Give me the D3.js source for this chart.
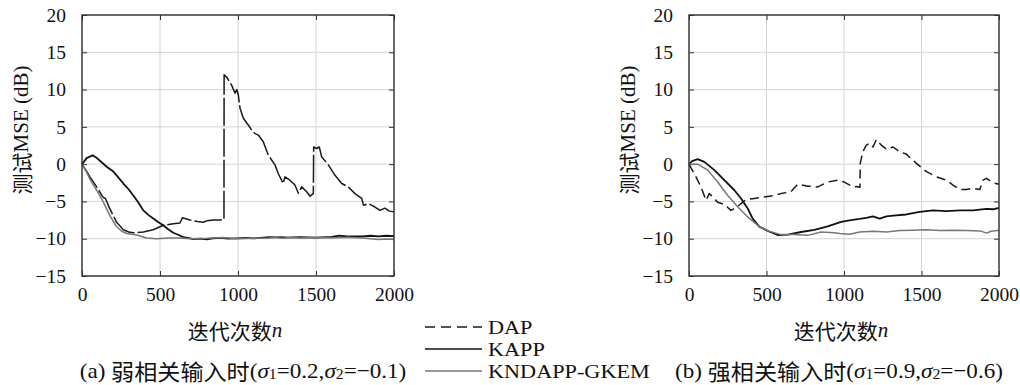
<!DOCTYPE html>
<html>
<head>
<meta charset="utf-8">
<script src="https://cdn.jsdelivr.net/npm/d3@7"></script>
<style>
body { margin: 0; background: #fff; }
svg { display: block; }
</style>
</head>
<body>
<div id="chart"></div>
<script>
/* tick values */
var xTicks = [0, 500, 1000, 1500, 2000];
var yTicks = [-15, -10, -5, 0, 5, 10, 15, 20];
var seriesNames = ["DAP", "KAPP", "KNDAPP-GKEM"];

/* (a) weak correlation, [n, MSE dB] */
var dapA = [[0,0],[25,-0.8],[51,-1.7],[94,-3.05],[130,-4.3],[140,-4.5],[150,-4.6],[179,-6.0],[222,-7.8],[265,-8.8],[300,-9.1],[329,-9.2],[393,-9.1],[457,-8.8],[521,-8.2],[585,-8.0],[628,-7.9],[643,-7.2],[660,-7.3],[692,-7.5],[740,-7.7],[778,-7.8],[800,-7.6],[842,-7.5],[880,-7.5],[910,-7.45],[911,12.0],[930,11.6],[959,10.6],[981,9.5],[992,10.0],[1002,9.3],[1013,7.5],[1034,6.15],[1066,5.25],[1090,4.5],[1109,4.1],[1130,3.9],[1162,3.0],[1194,1.2],[1237,-0.1],[1258,-1.25],[1290,-2.6],[1301,-1.7],[1333,-2.15],[1365,-2.8],[1387,-3.9],[1408,-3.05],[1440,-3.7],[1462,-4.3],[1483,-3.95],[1485,2.3],[1504,2.1],[1521,2.3],[1536,1.0],[1579,-0.1],[1622,-1.5],[1665,-2.6],[1707,-3.05],[1750,-3.95],[1793,-4.6],[1804,-5.5],[1836,-5.3],[1878,-5.75],[1910,-6.2],[1942,-5.9],[1970,-6.3],[2000,-6.4]];
var kappA = [[0,0],[30,0.8],[68,1.2],[90,0.9],[115,0.45],[158,-0.35],[201,-1.0],[230,-1.7],[265,-2.6],[300,-3.4],[329,-4.2],[360,-5.1],[393,-6.2],[425,-6.8],[457,-7.3],[490,-7.8],[521,-8.2],[550,-8.7],[585,-9.2],[620,-9.5],[649,-9.8],[680,-9.9],[713,-10.05],[760,-10.0],[799,-10.1],[840,-9.95],[884,-9.9],[940,-10.0],[991,-9.95],[1050,-9.9],[1100,-9.95],[1200,-9.8],[1300,-9.85],[1400,-9.8],[1500,-9.85],[1600,-9.75],[1650,-9.6],[1700,-9.7],[1800,-9.7],[1850,-9.6],[1900,-9.7],[1950,-9.6],[2000,-9.65]];
var kndA = [[0,0],[30,-1.1],[51,-2.0],[94,-3.5],[137,-5.1],[179,-6.9],[222,-8.4],[255,-9.0],[286,-9.3],[350,-9.5],[414,-9.9],[478,-10.0],[550,-9.9],[628,-9.9],[700,-10.0],[800,-9.95],[900,-9.85],[1000,-10.0],[1100,-9.95],[1200,-9.9],[1280,-9.7],[1320,-9.85],[1400,-9.9],[1500,-9.85],[1600,-9.9],[1700,-9.8],[1800,-9.9],[1900,-10.1],[1950,-10.05],[2000,-10.1]];

/* (b) strong correlation */
var dapB = [[0,0],[45,-1.7],[77,-3.05],[110,-4.85],[131,-3.95],[153,-4.4],[185,-5.1],[228,-5.4],[271,-6.2],[314,-5.7],[346,-5.1],[368,-4.75],[422,-4.6],[486,-4.4],[551,-4.2],[594,-3.95],[658,-3.7],[701,-2.7],[766,-2.95],[830,-3.05],[895,-2.4],[959,-2.15],[1002,-2.4],[1058,-3.05],[1080,-3.0],[1103,-3.1],[1105,0.1],[1121,1.65],[1144,2.55],[1166,2.8],[1187,2.3],[1209,3.3],[1241,2.55],[1274,2.0],[1317,2.3],[1359,1.65],[1402,1.35],[1467,0.1],[1532,-1.0],[1596,-1.7],[1660,-2.15],[1703,-2.8],[1747,-3.4],[1790,-3.4],[1833,-3.25],[1876,-3.4],[1897,-2.15],[1919,-1.9],[1962,-2.5],[2000,-2.7]];
var kappB = [[0,0],[20,0.4],[56,0.67],[99,0.3],[164,-0.8],[228,-2.15],[293,-3.5],[336,-4.6],[379,-5.95],[411,-7.3],[454,-8.4],[508,-8.95],[572,-9.5],[637,-9.45],[723,-9.1],[809,-8.8],[895,-8.35],[981,-7.75],[1045,-7.5],[1100,-7.35],[1144,-7.2],[1187,-7.0],[1230,-7.3],[1274,-7.0],[1317,-6.9],[1402,-6.75],[1488,-6.4],[1574,-6.2],[1660,-6.3],[1747,-6.2],[1833,-6.2],[1919,-6.0],[1960,-6.05],[2000,-5.85]];
var kndB = [[0,0],[56,0],[121,-0.8],[185,-2.4],[250,-4.2],[314,-5.7],[379,-7.1],[443,-8.2],[508,-8.95],[594,-9.45],[680,-9.45],[766,-9.55],[852,-9.1],[938,-9.2],[972,-9.3],[1037,-9.4],[1101,-9.1],[1187,-9.0],[1274,-9.1],[1359,-8.9],[1445,-8.85],[1532,-8.8],[1617,-8.9],[1703,-8.85],[1790,-8.9],[1880,-8.95],[1919,-9.25],[1950,-9.0],[2000,-8.85]];

var W = 1020, H = 385;
var serif = "'Liberation Serif', 'DejaVu Serif', serif";
var cjk = "'Noto Sans CJK SC', sans-serif";

var styles = [
	{color: "#1a1a1a", width: 1.5},
	{color: "#111", width: 1.8},
	{color: "#777", width: 1.5}
];

var svg = d3.select("#chart").append("svg")
	.attr("width", W)
	.attr("height", H)
	.style("background", "#fff");

/* stretch text sideways, the original uses a broad TeX face */
function widen(sel, k) {
	sel.each(function(){
		var w = this.getComputedTextLength();
		d3.select(this).attr("textLength", w * k).attr("lengthAdjust", "spacingAndGlyphs");
	});
}

function drawPanel(left, right, series, dash, caption) {
	var top = 15, bottom = 276;
	var x = d3.scaleLinear().domain([0, 2000]).range([left, right]);
	var y = d3.scaleLinear().domain([-15, 20]).range([bottom, top]);
	var g = svg.append("g");

	/* grid */
	g.selectAll(".gx").data(xTicks).enter().append("line")
		.attr("x1", function(d){ return x(d); }).attr("x2", function(d){ return x(d); })
		.attr("y1", top).attr("y2", bottom)
		.style("stroke", "#d4d4d4").style("stroke-width", 1);
	g.selectAll(".gy").data(yTicks).enter().append("line")
		.attr("y1", function(d){ return y(d); }).attr("y2", function(d){ return y(d); })
		.attr("x1", left).attr("x2", right)
		.style("stroke", "#d4d4d4").style("stroke-width", 1);

	/* axes, ticks inward */
	var xa = g.append("g").attr("transform", "translate(0," + bottom + ")")
		.call(d3.axisBottom(x).tickValues(xTicks).tickSizeInner(-5).tickSizeOuter(0).tickPadding(11)
			.tickFormat(d3.format("d")));
	var xt = g.append("g").attr("transform", "translate(0," + top + ")")
		.call(d3.axisTop(x).tickValues(xTicks).tickSizeInner(-5).tickSizeOuter(0).tickFormat(""));
	var ya = g.append("g").attr("transform", "translate(" + left + ",0)")
		.call(d3.axisLeft(y).tickValues(yTicks).tickSizeInner(-5).tickSizeOuter(0).tickPadding(16)
			.tickFormat(function(d){ return d < 0 ? "\u2212" + (-d) : d; }));
	var yr = g.append("g").attr("transform", "translate(" + right + ",0)")
		.call(d3.axisRight(y).tickValues(yTicks).tickSizeInner(-5).tickSizeOuter(0).tickFormat(""));
	[xa, xt, ya, yr].forEach(function(a){
		a.attr("font-family", serif).attr("font-size", 19.5);
		a.select(".domain").remove();
		a.selectAll("line").style("stroke", "#333");
		a.selectAll("text").style("font-family", serif).style("font-size", "19.5px").style("fill", "#111");
	});

	/* lines */
	var line = d3.line().x(function(d){ return x(d[0]); }).y(function(d){ return y(d[1]); });
	series.forEach(function(s, i){
		g.append("path")
			.datum(s)
			.attr("d", line)
			.style("fill", "none")
			.style("stroke", styles[i].color)
			.style("stroke-width", styles[i].width)
			.style("stroke-linejoin", "round")
			.style("stroke-dasharray", i === 0 ? dash : null);
	});

	/* frame */
	g.append("rect")
		.attr("x", left).attr("y", top)
		.attr("width", right - left).attr("height", bottom - top)
		.style("fill", "none").style("stroke", "#333").style("stroke-width", 1.4);

	/* y title */
	var yt = g.append("text")
		.attr("transform", "translate(" + (left - 61) + "," + 130 + ") rotate(-90)")
		.attr("text-anchor", "middle")
		.attr("dominant-baseline", "central")
		.attr("font-family", serif)
		.style("font-size", "21px").style("fill", "#111");
	yt.append("tspan").style("font-family", cjk).text("测试");
	yt.append("tspan").style("font-family", serif).text("MSE (dB)");

	/* x title */
	var cx = (left + right) / 2;
	var xtl = g.append("text")
		.attr("x", cx - 3).attr("y", 330)
		.attr("text-anchor", "middle")
		.attr("dominant-baseline", "central")
		.attr("font-family", serif)
		.style("font-size", "21px").style("fill", "#111");
	xtl.append("tspan").style("font-family", cjk).text("迭代次数");
	xtl.append("tspan").style("font-family", serif).style("font-style", "italic").text("n");

	/* caption */
	var cp = g.append("text")
		.attr("x", caption.x).attr("y", 370)
		.attr("text-anchor", "middle")
		.attr("dominant-baseline", "central")
		.attr("font-family", serif)
		.style("font-size", "22px").style("fill", "#111");
	cp.append("tspan").style("font-family", serif).text(caption.tag + " ");
	cp.append("tspan").style("font-family", cjk).text(caption.cjk);
	cp.append("tspan").style("font-family", serif).text("(");
	cp.append("tspan").style("font-family", serif).style("font-style", "italic").text("\u03c3");
	cp.append("tspan").style("font-family", serif).attr("dy", 4).style("font-size", "15px").text("1");
	cp.append("tspan").style("font-family", serif).attr("dy", -4).text("=" + caption.s1 + ",");
	cp.append("tspan").style("font-family", serif).style("font-style", "italic").text("\u03c3");
	cp.append("tspan").style("font-family", serif).attr("dy", 4).style("font-size", "15px").text("2");
	cp.append("tspan").style("font-family", serif).attr("dy", -4).text("=" + caption.s2 + ")");
	widen(cp, 1.05);
}

drawPanel(82, 394, [dapA, kappA, kndA], "28,3",
	{x: 243, tag: "(a)", cjk: "弱相关输入时", s1: "0.2", s2: "\u22120.1"});
drawPanel(689, 999, [dapB, kappB, kndB], "9,5",
	{x: 839, tag: "(b)", cjk: "强相关输入时", s1: "0.9", s2: "\u22120.6"});

/* legend */
var legend = svg.append("g");
var legendY = [327, 349, 371];
seriesNames.forEach(function(name, i){
	legend.append("line")
		.attr("x1", 425).attr("x2", 482)
		.attr("y1", legendY[i]).attr("y2", legendY[i])
		.style("stroke", styles[i].color)
		.style("stroke-width", 1.3)
		.style("stroke-dasharray", i === 0 ? "10,6" : null);
	var t = legend.append("text")
		.attr("x", 488).attr("y", legendY[i])
		.attr("dominant-baseline", "central")
		.style("font-family", serif).style("font-size", "19px").style("fill", "#111")
		.text(name);
	widen(t, 1.17);
});
</script>
</body>
</html>
